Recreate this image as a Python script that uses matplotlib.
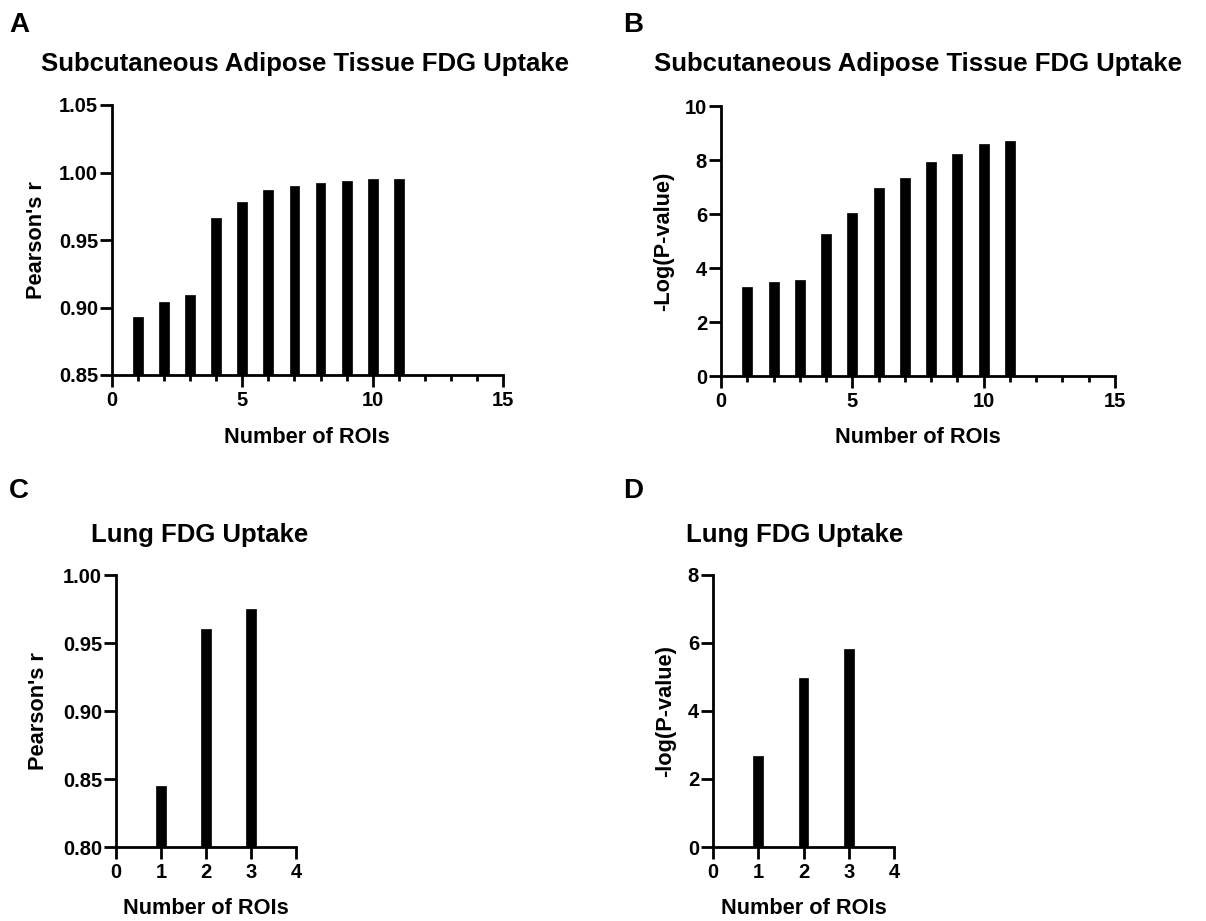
import matplotlib
matplotlib.use("Agg")
import matplotlib.pyplot as plt
from matplotlib.ticker import MultipleLocator, FormatStrFormatter

# ---- data ----
roi_sat = [1, 2, 3, 4, 5, 6, 7, 8, 9, 10, 11]
sat_r = [0.893, 0.904, 0.909, 0.966, 0.978, 0.987, 0.990, 0.992, 0.994, 0.995, 0.995]
sat_logp = [3.28, 3.48, 3.57, 5.25, 6.03, 6.95, 7.35, 7.92, 8.23, 8.61, 8.72]
roi_lung = [1, 2, 3]
lung_r = [0.845, 0.960, 0.975]
lung_logp = [2.67, 4.97, 5.82]

title_sat = "Subcutaneous Adipose Tissue FDG Uptake"
title_lung = "Lung FDG Uptake"
xlabel = "Number of ROIs"

plt.rcParams['font.family'] = ['Liberation Sans', 'DejaVu Sans']
plt.rcParams['font.weight'] = 'bold'

W, H = 1206, 921
fig = plt.figure(figsize=(W / 100, H / 100), dpi=100)

LW = 2.0
TICKFS = 14.5
LABELFS = 15.7
TITLEFS = 18.5
LETTERFS = 20


def px_axes(l, t, r, b):
    return fig.add_axes([l / W, 1 - b / H, (r - l) / W, (b - t) / H])


def ftext(x, y, s, **kw):
    fig.text(x / W, 1 - y / H, s, fontweight='bold', **kw)


def style(ax, xlim, ylim, xmajor, xminor, ymajor, yfmt):
    ax.set_xlim(*xlim)
    ax.set_ylim(*ylim)
    for s in ['top', 'right']:
        ax.spines[s].set_visible(False)
    for s in ['left', 'bottom']:
        ax.spines[s].set_linewidth(LW)
        ax.spines[s].set_capstyle('projecting')
    ax.xaxis.set_major_locator(MultipleLocator(xmajor))
    if xminor:
        ax.xaxis.set_minor_locator(MultipleLocator(xminor))
    ax.yaxis.set_major_locator(MultipleLocator(ymajor))
    ax.yaxis.set_major_formatter(FormatStrFormatter(yfmt))
    ax.tick_params(axis='both', which='major', length=8.5, width=LW,
                   labelsize=TICKFS, pad=1.5)
    ax.tick_params(axis='x', which='minor', length=4.5, width=LW)
    ax.tick_params(axis='x', which='major', pad=3)
    for lab in ax.get_xticklabels() + ax.get_yticklabels():
        lab.set_fontweight('bold')


# Panel A
axA = px_axes(112, 105, 503, 375)
axA.bar(roi_sat, sat_r, width=0.38, color='black', edgecolor='black', linewidth=0.5)
style(axA, (0, 15), (0.85, 1.05), 5, 1, 0.05, '%.2f')

# Panel B
axB = px_axes(721, 106, 1115, 376)
axB.bar(roi_sat, sat_logp, width=0.38, color='black', edgecolor='black', linewidth=0.5)
style(axB, (0, 15), (0, 10), 5, 1, 2, '%d')

# Panel C
axC = px_axes(116, 575, 296, 847)
axC.bar(roi_lung, lung_r, width=0.22, color='black', edgecolor='black', linewidth=0.5)
style(axC, (0, 4), (0.80, 1.00), 1, None, 0.05, '%.2f')

# Panel D
axD = px_axes(713, 575, 894, 847)
axD.bar(roi_lung, lung_logp, width=0.22, color='black', edgecolor='black', linewidth=0.5)
style(axD, (0, 4), (0, 8), 1, None, 2, '%d')

# Panel letters
ftext(9, 32, "A", fontsize=LETTERFS, ha='left', va='baseline')
ftext(623, 32, "B", fontsize=LETTERFS, ha='left', va='baseline')
ftext(9, 498, "C", fontsize=LETTERFS, ha='left', va='baseline')
ftext(623, 498, "D", fontsize=LETTERFS, ha='left', va='baseline')

# Titles
ftext(305, 71, title_sat, fontsize=TITLEFS, ha='center', va='baseline')
ftext(918, 71, title_sat, fontsize=TITLEFS, ha='center', va='baseline')
ftext(200, 542, title_lung, fontsize=TITLEFS, ha='center', va='baseline')
ftext(795, 542, title_lung, fontsize=TITLEFS, ha='center', va='baseline')

# X labels
ftext(307, 443, xlabel, fontsize=LABELFS, ha='center', va='baseline')
ftext(918, 443, xlabel, fontsize=LABELFS, ha='center', va='baseline')
ftext(206, 914, xlabel, fontsize=LABELFS, ha='center', va='baseline')
ftext(804, 914, xlabel, fontsize=LABELFS, ha='center', va='baseline')

# Y labels
ftext(37, 240, "Pearson's r", fontsize=LABELFS, ha='center', va='center', rotation=90)
ftext(664, 241, "-Log(P-value)", fontsize=LABELFS, ha='center', va='center', rotation=90)
ftext(38, 711, "Pearson's r", fontsize=LABELFS, ha='center', va='center', rotation=90)
ftext(666, 711, "-log(P-value)", fontsize=LABELFS, ha='center', va='center', rotation=90)

fig.savefig("out.png", dpi=100)
